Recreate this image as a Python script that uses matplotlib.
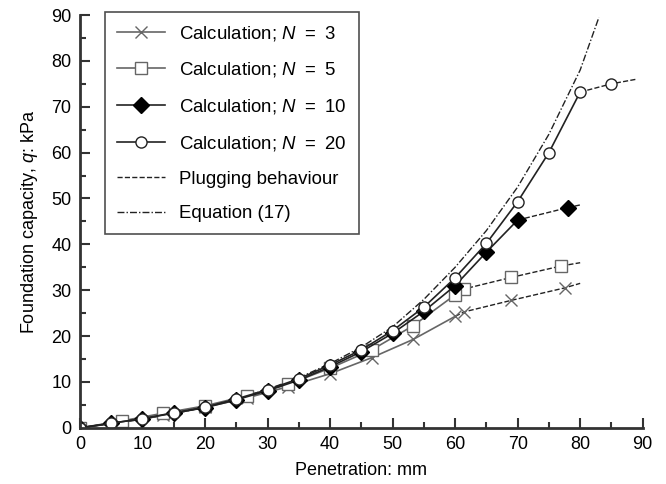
import matplotlib
matplotlib.use('Agg')
import matplotlib.pyplot as plt
import numpy as np
from matplotlib.ticker import MultipleLocator

plt.rcParams['font.family'] = ['Liberation Sans', 'DejaVu Sans']
plt.rcParams['mathtext.fontset'] = 'custom'
plt.rcParams['mathtext.it'] = 'Liberation Sans:italic'
plt.rcParams['mathtext.rm'] = 'Liberation Sans'

# N = 3 and N = 5 share the same penetration steps
x_35 = [0, 6.67, 13.33, 20, 26.67, 33.33, 40, 46.67, 53.33, 60]
q_n3 = [0, 1.2, 2.7, 4.5, 6.5, 9.0, 11.8, 15.3, 19.3, 24.3]
q_n5 = [0, 1.5, 3.2, 4.8, 7.0, 9.5, 13.0, 17.0, 22.3, 29.0]

x_n10 = [0, 5, 10, 15, 20, 25, 30, 35, 40, 45, 50, 55, 60, 65, 70]
q_n10 = [0, 1.0, 2.0, 3.2, 4.4, 6.1, 8.1, 10.4, 13.3, 16.6, 20.6, 25.4, 31.0, 38.3, 45.3]

x_n20 = [0, 5, 10, 15, 20, 25, 30, 35, 40, 45, 50, 55, 60, 65, 70, 75, 80]
q_n20 = [0, 1.0, 2.0, 3.3, 4.5, 6.3, 8.3, 10.7, 13.7, 17.0, 21.2, 26.3, 32.7, 40.2, 49.3, 60.0, 73.2]

# plugging behaviour (dashed continuation)
xp_n3 = [60, 61.5, 69, 77.5, 80]
qp_n3 = [24.3, 25.3, 27.8, 30.5, 31.5]
xp_n5 = [60, 61.5, 69, 77, 80]
qp_n5 = [29.0, 30.3, 32.8, 35.3, 36.0]
xp_n10 = [70, 78, 80]
qp_n10 = [45.3, 48.0, 48.6]
xp_n20 = [80, 85, 89]
qp_n20 = [73.2, 75.0, 76.0]

# Equation (17)
x_eq = [0, 5, 10, 15, 20, 25, 30, 35, 40, 45, 50, 55, 60, 65, 70, 75, 80, 83]
q_eq = [0, 0.9, 1.9, 3.1, 4.5, 6.3, 8.4, 10.9, 14.0, 17.6, 22.0, 28.0, 35.0, 43.0, 52.5, 64.0, 78.0, 89.5]

fig = plt.figure(figsize=(6.66, 4.84), dpi=100)
ax = fig.add_axes([0.12, 0.116, 0.845, 0.853])

gray = '#666666'
dark = '#222222'

# dashed plugging parts (markers only where not shared with solid part)
ax.plot(xp_n3, qp_n3, ls='--', color=dark, lw=1, marker='x', ms=9, mec=gray, markevery=[1, 2, 3])
ax.plot(xp_n5, qp_n5, ls='--', color=dark, lw=1, marker='s', ms=8, mfc='white', mec=gray, markevery=[1, 2, 3])
ax.plot(xp_n10, qp_n10, ls='--', color=dark, lw=1, marker='D', ms=8, mfc='black', mec='black', markevery=[1])
ax.plot(xp_n20, qp_n20, ls='--', color=dark, lw=1, marker='o', ms=8, mfc='white', mec=dark, markevery=[1])

ax.plot(x_eq, q_eq, ls='-.', color=dark, lw=1, dashes=[5, 1.5, 1, 1.5])

l3, = ax.plot(x_35, q_n3, color=gray, lw=1.2, marker='x', ms=9, mec=gray)
l5, = ax.plot(x_35, q_n5, color=gray, lw=1.2, marker='s', ms=8, mfc='white', mec=gray)
l10, = ax.plot(x_n10, q_n10, color=dark, lw=1.2, marker='D', ms=8, mfc='black', mec='black')
l20, = ax.plot(x_n20, q_n20, color=dark, lw=1.2, marker='o', ms=8, mfc='white', mec=dark)

lp, = ax.plot([], [], ls='--', color=dark, lw=1)
le, = ax.plot([], [], ls='-.', color=dark, lw=1, dashes=[5, 1.5, 1, 1.5])

labels = ['Calculation; $N$\u2002=\u20023', 'Calculation; $N$\u2002=\u20025',
          'Calculation; $N$\u2002=\u200210', 'Calculation; $N$\u2002=\u200220',
          'Plugging behaviour', 'Equation (17)']
leg = ax.legend([l3, l5, l10, l20, lp, le], labels, loc='upper left',
                bbox_to_anchor=(0.044, 1.008), fontsize=13.4, frameon=True, fancybox=False,
                edgecolor='#222222', handlelength=2.6, labelspacing=0.95,
                borderpad=0.65, handletextpad=0.75, borderaxespad=0)
leg.get_frame().set_linewidth(1.2)

ax.set_xlim(0, 90)
ax.set_ylim(0, 90)
ax.xaxis.set_major_locator(MultipleLocator(10))
ax.xaxis.set_minor_locator(MultipleLocator(5))
ax.yaxis.set_major_locator(MultipleLocator(10))
ax.yaxis.set_minor_locator(MultipleLocator(5))
ax.tick_params(which='major', direction='in', length=7, width=1.5, color='#333333', labelsize=13, pad=6)
ax.tick_params(which='minor', direction='in', length=4, width=1.5, color='#333333')
for s in ['top', 'right']:
    ax.spines[s].set_visible(False)
for s in ['left', 'bottom']:
    ax.spines[s].set_linewidth(2)
    ax.spines[s].set_color('#333333')

ax.set_xlabel('Penetration: mm', fontsize=13, labelpad=6)
ax.set_ylabel('Foundation capacity, $q$: kPa', fontsize=13, labelpad=8)

fig.savefig('out.png', dpi=100)
